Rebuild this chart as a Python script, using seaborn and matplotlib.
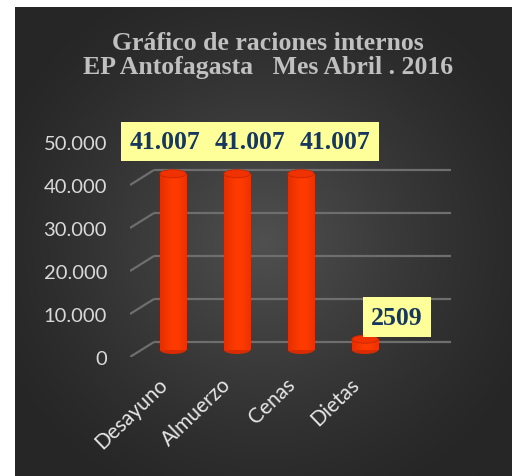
import numpy as np
import pandas as pd
import matplotlib
matplotlib.use("Agg")
import matplotlib.pyplot as plt
import matplotlib.transforms as mtrans
from matplotlib.patches import Ellipse
import seaborn as sns

# ---- data ----
categories = ["Desayuno", "Almuerzo", "Cenas", "Dietas"]
values = [41007, 41007, 41007, 2509]
value_labels = ["41.007", "41.007", "41.007", "2509"]
yticks = [0, 10000, 20000, 30000, 40000, 50000]
ytick_labels = ["0", "10.000", "20.000", "30.000", "40.000", "50.000"]
title_text = "Gráfico de raciones internos\nEP Antofagasta   Mes Abril . 2016"

# ---- layout / style (not data) ----
label_offsets_px = [(-8, 39), (13, 39), (34, 39), (32, 29)]
W, H, DPI = 512, 477, 100

sns.set_theme(style="white")
plt.rcParams["font.family"] = ["Lato", "DejaVu Sans"]

fig = plt.figure(figsize=(W / DPI, H / DPI), dpi=DPI, facecolor="white")

# background panel with radial gradient
bg = fig.add_axes([15 / W, 0, (W - 15) / W, (H - 8) / H], zorder=0)
ny, nx = 300, 320
yy, xx = np.mgrid[0:ny, 0:nx]
cx, cy = nx * 0.50, ny * 0.50
r = np.sqrt(((xx - cx) / (nx * 0.60)) ** 2 + ((yy - cy) / (ny * 0.62)) ** 2)
r = np.clip(r, 0, 1)
edge = np.array([0x26, 0x26, 0x26]) / 255
center = np.array([0x50, 0x50, 0x50]) / 255
t = (1 - r) ** 1.3
img = edge[None, None, :] + (center - edge)[None, None, :] * t[..., None]
bg.imshow(img, aspect="auto", interpolation="bilinear")
bg.set_axis_off()

# main axes (front plane of the 3D floor)
ax_left, ax_right = 130, 451
ax_bottom, ax_top = 358, 143
ax = fig.add_axes([ax_left / W, (H - ax_bottom) / H, (ax_right - ax_left) / W,
                   (ax_bottom - ax_top) / H], zorder=2)
ax.patch.set_alpha(0)

df = pd.DataFrame({"cat": categories, "val": values})
sns.barplot(data=df, x="cat", y="val", color="#FF3300", width=0.41,
            saturation=1, ax=ax, zorder=3)

px_w = 1 / (ax_right - ax_left)
ax.set_xlim(-0.672, 4.344)
ax.set_ylim(0, 50000)
xr = ax.get_xlim()[1] - ax.get_xlim()[0]
y_per_px = 50000 / (ax_bottom - ax_top)

# 3D-like gridlines: back wall lines + diagonal floor lines
dx_px, dy_px = 24, 15
back = ax.get_yaxis_transform() + mtrans.ScaledTranslation(dx_px / DPI, dy_px / DPI, fig.dpi_scale_trans)
ax.hlines(yticks, 0, 1.0, transform=back, color="#6e6e6e", lw=1.6, zorder=1)
for v in yticks:
    x0 = ax.get_xlim()[0]
    ax.plot([x0, x0 + dx_px * px_w * xr], [v, v + dy_px * y_per_px],
            color="#6e6e6e", lw=1.6, zorder=1, solid_capstyle="butt")

# cylinder styling
shift = mtrans.ScaledTranslation(0, 7 / DPI, fig.dpi_scale_trans)
grad = np.linspace(0, 1, 64)
prof = np.exp(-((grad - 0.55) / 0.5) ** 2)
dark = np.array([0.86, 0.16, 0.0])
bright = np.array([1.0, 0.23, 0.0])
cyl = dark[None, :] + (bright - dark)[None, :] * prof[:, None]
cyl = cyl[None, :, :]
for p in list(ax.patches):
    x, w, h = p.get_x(), p.get_width(), p.get_height()
    p.set_transform(ax.transData + shift)
    p.set_edgecolor("none")
    cap_h = 8 * y_per_px
    e0 = Ellipse((x + w / 2, 0), w, cap_h, facecolor="#d82c00", edgecolor="none",
                 zorder=2.9, transform=ax.transData + shift)
    ax.add_patch(e0)
    im = ax.imshow(cyl, extent=[x, x + w, 0, h], aspect="auto", zorder=3.1,
                   transform=ax.transData + shift, interpolation="bilinear")
    im.set_clip_path(p)
    e1 = Ellipse((x + w / 2, h), w, cap_h, facecolor="#f03200", edgecolor="#c82800",
                 lw=0.6, zorder=3.2, transform=ax.transData + shift)
    ax.add_patch(e1)
ax.set_xlim(-0.672, 4.344)
ax.set_ylim(0, 50000)

# data labels
for i, (v, lab) in enumerate(zip(values, value_labels)):
    ox, oy = label_offsets_px[i]
    ax.annotate(lab, xy=(i, v), xytext=(ox, oy), textcoords="offset pixels",
                ha="center", va="center", fontsize=18.5, fontweight="bold",
                family=["Liberation Serif", "DejaVu Serif"], color="#17375E",
                bbox=dict(boxstyle="square,pad=0.32", facecolor="#FFFF99", edgecolor="none"),
                zorder=5, annotation_clip=False)

# axes cosmetics
for s in ax.spines.values():
    s.set_visible(False)
ax.set_xlabel("")
ax.set_ylabel("")
ax.set_yticks(yticks)
ax.set_yticklabels(ytick_labels)
ax.tick_params(axis="y", length=0, pad=16.5, labelsize=14.5, labelcolor="#d9d9d9")
ax.tick_params(axis="x", length=0, pad=12, labelsize=15, labelcolor="#e6e6e6")
ax.set_xticks(range(len(categories)))
ax.set_xticklabels(categories)
xshift = mtrans.ScaledTranslation(-16 / DPI, 0, fig.dpi_scale_trans)
for lbl in ax.get_xticklabels():
    lbl.set_rotation(44)
    lbl.set_rotation_mode("anchor")
    lbl.set_ha("right")
    lbl.set_va("top")
    lbl.set_transform(lbl.get_transform() + xshift)

fig.text(268 / W, 1 - 55.5 / H, title_text, ha="center", va="center",
         fontsize=18.5, fontweight="bold", color="#c0c0c0", linespacing=1.1,
         family=["Liberation Serif", "DejaVu Serif"], zorder=6)

fig.savefig("out.png", dpi=DPI, facecolor="white")
